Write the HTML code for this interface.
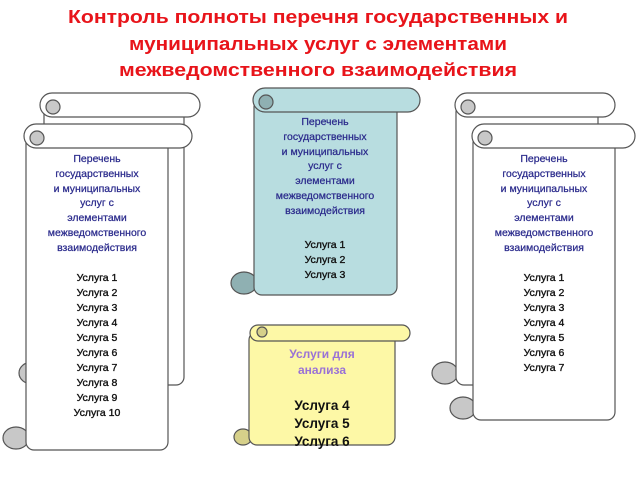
<!DOCTYPE html>
<html><head><meta charset="utf-8"><style>
html,body{margin:0;padding:0;background:#fff;width:640px;height:480px;overflow:hidden}
svg{display:block}
text{font-family:"Liberation Sans",sans-serif}
</style></head><body>
<svg width="640" height="480" viewBox="0 0 640 480" xmlns="http://www.w3.org/2000/svg">
<g fill="#e8141a" font-weight="bold" font-size="18" text-anchor="middle">
<text x="318" y="23" textLength="500" lengthAdjust="spacingAndGlyphs">Контроль полноты перечня государственных и</text>
<text x="318" y="50" textLength="378" lengthAdjust="spacingAndGlyphs">муниципальных услуг с элементами</text>
<text x="318" y="76" textLength="398" lengthAdjust="spacingAndGlyphs">межведомственного взаимодействия</text>
</g>

<g stroke="#555" stroke-width="1.2">
<!-- left back -->
<ellipse cx="32" cy="373" rx="13" ry="11" fill="#c8c8c8"/>
<rect x="44" y="104" width="140" height="281" rx="8" fill="#fff"/>
<rect x="40" y="93" width="160" height="24" rx="12" fill="#fff"/>
<circle cx="53" cy="107" r="7" fill="#c8c8c8"/>
<!-- left front -->
<ellipse cx="16" cy="438" rx="13" ry="11" fill="#c8c8c8"/>
<rect x="26" y="135" width="142" height="315" rx="8" fill="#fff"/>
<rect x="24" y="124" width="168" height="24" rx="12" fill="#fff"/>
<circle cx="37" cy="138" r="7" fill="#c8c8c8"/>
<!-- right back -->
<ellipse cx="445" cy="373" rx="13" ry="11" fill="#c8c8c8"/>
<rect x="456" y="104" width="142" height="281" rx="8" fill="#fff"/>
<rect x="455" y="93" width="160" height="24" rx="12" fill="#fff"/>
<circle cx="468" cy="107" r="7" fill="#c8c8c8"/>
<!-- right front -->
<ellipse cx="463" cy="408" rx="13" ry="11" fill="#c8c8c8"/>
<rect x="473" y="135" width="142" height="285" rx="8" fill="#fff"/>
<rect x="472" y="124" width="163" height="24" rx="12" fill="#fff"/>
<circle cx="485" cy="138" r="7" fill="#c8c8c8"/>
<!-- middle blue -->
<ellipse cx="244" cy="283" rx="13" ry="11" fill="#8fb0b2"/>
<rect x="254" y="99" width="143" height="196" rx="8" fill="#b8dde0"/>
<rect x="253" y="88" width="167" height="24" rx="12" fill="#b8dde0"/>
<circle cx="266" cy="102" r="7" fill="#8fb0b2"/>
<!-- yellow -->
<ellipse cx="243" cy="437" rx="9" ry="8" fill="#d6d08a"/>
<rect x="249" y="332" width="146" height="113" rx="8" fill="#fdf8a6"/>
<rect x="250" y="325" width="160" height="16" rx="8" fill="#fdf8a6"/>
<circle cx="262" cy="332" r="5" fill="#d6d08a"/>
</g>

<g font-size="10.5" text-anchor="middle" font-weight="bold">
<g fill="#2b2b8c" font-weight="normal" stroke="#2b2b8c" stroke-width="0.25">
<text x="97" y="162">Перечень</text><text x="97" y="177">государственных</text><text x="97" y="192">и муниципальных</text><text x="97" y="206">услуг с</text><text x="97" y="221">элементами</text><text x="97" y="236">межведомственного</text><text x="97" y="251">взаимодействия</text>
<text x="544" y="162">Перечень</text><text x="544" y="177">государственных</text><text x="544" y="192">и муниципальных</text><text x="544" y="206">услуг с</text><text x="544" y="221">элементами</text><text x="544" y="236">межведомственного</text><text x="544" y="251">взаимодействия</text>
<text x="325" y="125">Перечень</text><text x="325" y="140">государственных</text><text x="325" y="155">и муниципальных</text><text x="325" y="169">услуг с</text><text x="325" y="184">элементами</text><text x="325" y="199">межведомственного</text><text x="325" y="214">взаимодействия</text>
</g>
<g fill="#111" font-weight="normal" stroke="#111" stroke-width="0.35">
<text x="97" y="281">Услуга 1</text><text x="97" y="296">Услуга 2</text><text x="97" y="311">Услуга 3</text><text x="97" y="326">Услуга 4</text><text x="97" y="341">Услуга 5</text><text x="97" y="356">Услуга 6</text><text x="97" y="371">Услуга 7</text><text x="97" y="386">Услуга 8</text><text x="97" y="401">Услуга 9</text><text x="97" y="416">Услуга 10</text>
<text x="544" y="281">Услуга 1</text><text x="544" y="296">Услуга 2</text><text x="544" y="311">Услуга 3</text><text x="544" y="326">Услуга 4</text><text x="544" y="341">Услуга 5</text><text x="544" y="356">Услуга 6</text><text x="544" y="371">Услуга 7</text>
<text x="325" y="248">Услуга 1</text><text x="325" y="263">Услуга 2</text><text x="325" y="278">Услуга 3</text>
</g>
</g>
<g text-anchor="middle" font-weight="bold">
<text x="322" y="358" font-size="12" fill="#9a72d6">Услуги для</text>
<text x="322" y="374" font-size="12" fill="#9a72d6">анализа</text>
<text x="322" y="410" font-size="13.5" fill="#111">Услуга 4</text>
<text x="322" y="428" font-size="13.5" fill="#111">Услуга 5</text>
<text x="322" y="446" font-size="13.5" fill="#111">Услуга 6</text>
</g>
</svg>
</body></html>
